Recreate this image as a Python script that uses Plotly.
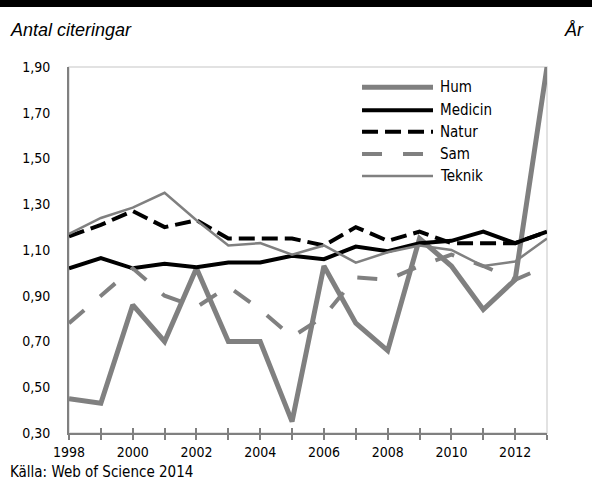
import plotly.graph_objects as go

years = list(range(1998, 2014))
hum     = [0.45, 0.43, 0.86, 0.70, 1.02, 0.70, 0.70, 0.35, 1.03, 0.78, 0.66, 1.15, 1.03, 0.84, 0.97, 1.90]
medicin = [1.02, 1.065, 1.02, 1.04, 1.025, 1.045, 1.045, 1.075, 1.06, 1.115, 1.095, 1.13, 1.14, 1.18, 1.13, 1.18]
natur   = [1.16, 1.21, 1.27, 1.20, 1.23, 1.15, 1.15, 1.15, 1.12, 1.20, 1.14, 1.18, 1.13, 1.13, 1.13, 1.18]
sam     = [0.78, 0.90, 1.02, 0.90, 0.85, 0.94, 0.84, 0.72, 0.81, 0.98, 0.97, 1.03, 1.08, 1.03, 0.97, 1.03]
teknik  = [1.17, 1.24, 1.285, 1.35, 1.23, 1.12, 1.13, 1.08, 1.12, 1.045, 1.09, 1.12, 1.10, 1.03, 1.05, 1.15]

series_names = ["Hum", "Medicin", "Natur", "Sam", "Teknik"]
series_vals = [hum, medicin, natur, sam, teknik]
y_ticks = [0.3, 0.5, 0.7, 0.9, 1.1, 1.3, 1.5, 1.7, 1.9]
x_ticktext = [str(y) if y % 2 == 0 else "" for y in years]

GRAY = "#808080"
styles = {
    "Hum":     dict(color=GRAY, width=5, dash="solid"),
    "Medicin": dict(color="#000000", width=4, dash="solid"),
    "Natur":   dict(color="#000000", width=4, dash="16px,7px"),
    "Sam":     dict(color=GRAY, width=4, dash="20px,21px"),
    "Teknik":  dict(color=GRAY, width=2.5, dash="solid"),
}

FONT = "DejaVu Sans Condensed, Liberation Sans Narrow, sans-serif"
TFONT = "Liberation Sans, Arial, sans-serif"

fig = go.Figure()
for name, vals in zip(series_names, series_vals):
    fig.add_trace(go.Scatter(x=years, y=vals, mode="lines", name=name,
                             line=styles[name], cliponaxis=False, showlegend=False))
# dummy trace to activate overlay x axis for crossing ticks
fig.add_trace(go.Scatter(x=[years[0]], y=[None], xaxis="x2", mode="lines",
                         showlegend=False, hoverinfo="skip"))

# custom legend
leg_y = [0.945, 0.882, 0.823, 0.762, 0.702]
for name, ly in zip(series_names, leg_y):
    st = styles[name]
    fig.add_shape(type="line", xref="paper", yref="paper", x0=0.613, x1=0.7615, y0=ly, y1=ly,
                  line=dict(color=st["color"], width=st["width"], dash=st["dash"]))
    fig.add_annotation(xref="paper", yref="paper", x=0.772, y=ly, text=name, showarrow=False,
                       xanchor="left", yanchor="middle", font=dict(size=15, color="#000", family=FONT))

# frame
fig.add_shape(type="rect", xref="paper", yref="paper", x0=0, x1=1, y0=0, y1=1,
              line=dict(color="#d9d9d9", width=1.5), layer="below")
# top black bar
fig.add_shape(type="rect", xref="paper", yref="paper", x0=-0.2, x1=1.2, y0=1.164, y1=1.2,
              line=dict(width=0), fillcolor="#000")

fig.add_annotation(xref="paper", yref="paper", x=-0.1276, y=1.101, text="<i>Antal citeringar</i>",
                   showarrow=False, xanchor="left", yanchor="middle",
                   font=dict(size=18, color="#000", family=TFONT))
fig.add_annotation(xref="paper", yref="paper", x=1.0816, y=1.101, text="<i>År</i>",
                   showarrow=False, xanchor="right", yanchor="middle",
                   font=dict(size=18, color="#000", family=TFONT))
fig.add_annotation(xref="paper", yref="paper", x=-0.1276, y=-0.106, text="Källa: Web of Science 2014",
                   showarrow=False, xanchor="left", yanchor="middle",
                   font=dict(size=15, color="#000", family=FONT))

fig.update_layout(
    width=592, height=486,
    margin=dict(l=69, r=45, t=67, b=53),
    paper_bgcolor="white", plot_bgcolor="white",
    separators=", ",
    font=dict(family=FONT, size=15, color="#000"),
    xaxis=dict(range=[1998, 2013], tickvals=years, ticktext=x_ticktext,
               ticks="outside", ticklen=5, tickwidth=1.5, tickcolor=GRAY,
               showline=True, linecolor=GRAY, linewidth=2, showgrid=False, zeroline=False,
               tickfont=dict(size=14, family=FONT)),
    xaxis2=dict(range=[1998, 2013], tickvals=years, overlaying="x", anchor="y", side="bottom",
                ticks="inside", ticklen=5, tickwidth=1.5, tickcolor=GRAY,
                showticklabels=False, showline=False, showgrid=False, zeroline=False),
    yaxis=dict(range=[0.3, 1.9], tickvals=y_ticks, tickformat=".2f",
               showline=True, linecolor=GRAY, linewidth=2, showgrid=False, zeroline=False,
               ticks="", ticklabelstandoff=14, tickfont=dict(size=14, family=FONT)),
)

fig.write_html("out.html", config={"displayModeBar": False},
               post_script="document.body.style.margin='0px';")
